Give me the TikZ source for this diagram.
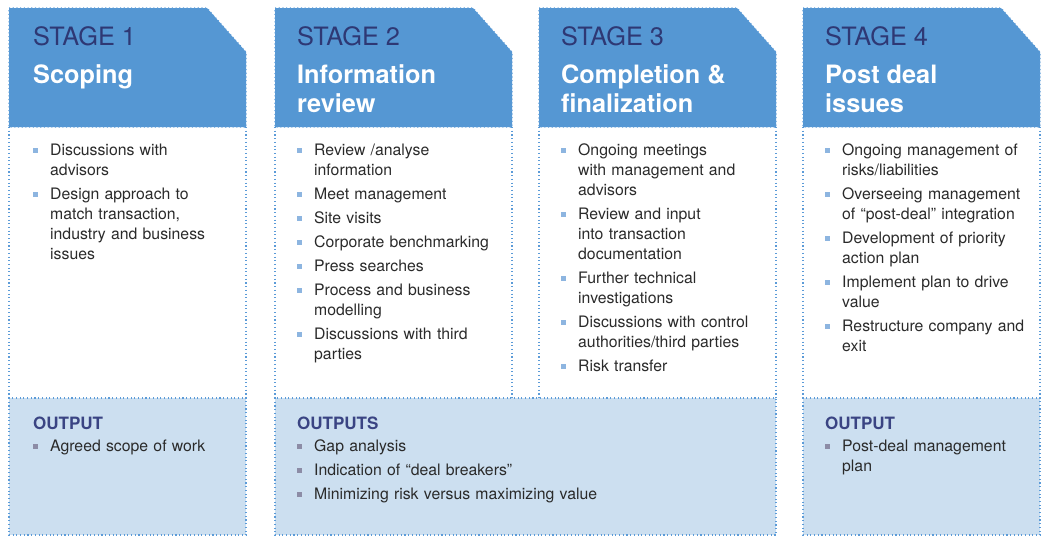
\documentclass[tikz,border=0pt]{standalone}
\usepackage{fontspec}
\setmainfont{TeX Gyre Heros}
\definecolor{hdrblue}{HTML}{5597D3}
\definecolor{navy}{HTML}{2E3874}
\definecolor{outbg}{HTML}{CCDFF0}
\definecolor{dotblue}{HTML}{5B9BD8}
\definecolor{bodytxt}{HTML}{2A2A2A}
\definecolor{bbul}{HTML}{8DB5E0}
\definecolor{obul}{HTML}{8C8CA6}
\definecolor{outnavy}{HTML}{3A4483}
\newcommand\nl{\hfil\break}
\newcommand\bfirst[1]{\noindent\hangindent=17pt\hangafter=1\makebox[17pt][l]{\textcolor{bbul}{\rule[2.3pt]{4.8pt}{4.8pt}}}#1}
\newcommand\bitem[1]{\par\vskip4pt\bfirst{#1}}
\newcommand\ofirst[1]{\noindent\hangindent=17pt\hangafter=1\makebox[17pt][l]{\textcolor{obul}{\rule[2.3pt]{4.8pt}{4.8pt}}}#1}
\newcommand\oitem[1]{\par\vskip4pt\ofirst{#1}}
\tikzset{
  dotb/.style={draw=dotblue, line width=1.1pt, dash pattern=on 1.1pt off 2.6pt},
  hdr/.style={fill=hdrblue, dotb},
  outbox/.style={fill=outbg, dotb},
  stagelbl/.style={anchor=base west, inner sep=0pt, text=navy, font=\fontsize{25.3}{29}\selectfont},
  titlelbl/.style={anchor=base west, inner sep=0pt, text=white, align=left, font=\bfseries\fontsize{25.3}{29}\selectfont},
  bodylist/.style={anchor=base west, inner sep=0pt, text=bodytxt, text width=212pt, font=\fontsize{15.8}{20}\selectfont},
  outtitle/.style={anchor=base west, inner sep=0pt, text=outnavy, font=\bfseries\fontsize{17}{20}\selectfont},
}
\begin{document}
\begin{tikzpicture}[x=1pt,y=-1pt]
\useasboundingbox (0,0) rectangle (1045,536);
% headers and body sides
\foreach \c/\n in {9/1,275/2,539/3,803/4}{
  \draw[dotb] (\c,127) -- (\c,398);
  \draw[dotb] (\c+237,127) -- (\c+237,398);
  \path[hdr] (\c,8) -- (\c+198,8) -- (\c+237,52) -- (\c+237,127) -- (\c,127) -- cycle;
}
% output boxes
\path[outbox] (9,398) rectangle (246,535);
\path[outbox] (275,398) rectangle (776,535);
\path[outbox] (803,398) rectangle (1040,535);

% header texts
\node[stagelbl] (s1) at (33,45) {STAGE 1};
\node[stagelbl] (s2) at (297,45) {STAGE 2};
\node[stagelbl] (s3) at (561,45) {STAGE 3};
\node[stagelbl] (s4) at (825,45) {STAGE 4};
\node[titlelbl] (t1) at (33,83) {Scoping};
\node[titlelbl] (t2) at (297,112) {Information\\review};
\node[titlelbl] (t3) at (561,112) {Completion \&\\finalization};
\node[titlelbl] (t4) at (825,112) {Post deal\\issues};

% body lists
\node[bodylist] (b1) at (33,155) {%
  \bfirst{Discussions with\nl advisors}
  \bitem{Design approach to\nl match transaction,\nl industry and business\nl issues}\par};
\node[bodylist] (b2) at (297,155) {%
  \bfirst{Review /analyse\nl information}
  \bitem{Meet management}
  \bitem{Site visits}
  \bitem{Corporate benchmarking}
  \bitem{Press searches}
  \bitem{Process and business\nl modelling}
  \bitem{Discussions with third\nl parties}\par};
\node[bodylist] (b3) at (561,155) {%
  \bfirst{Ongoing meetings\nl with management and\nl advisors}
  \bitem{Review and input\nl into transaction\nl documentation}
  \bitem{Further technical\nl investigations}
  \bitem{Discussions with control\nl authorities/third parties}
  \bitem{Risk transfer}\par};
\node[bodylist] (b4) at (825,155) {%
  \bfirst{Ongoing management of\nl risks/liabilities}
  \bitem{Overseeing management\nl of “post-deal” integration}
  \bitem{Development of priority\nl action plan}
  \bitem{Implement plan to drive\nl value}
  \bitem{Restructure company and\nl exit}\par};

% outputs
\node[outtitle] (o1) at (33,429) {OUTPUT};
\node[outtitle] (o2) at (297,429) {OUTPUTS};
\node[outtitle] (o4) at (825,429) {OUTPUT};
\node[bodylist] (ol1) at (33,451) {\ofirst{Agreed scope of work}\par};
\node[bodylist, text width=420pt] (ol2) at (297,451) {%
  \ofirst{Gap analysis}
  \oitem{Indication of “deal breakers”}
  \oitem{Minimizing risk versus maximizing value}\par};
\node[bodylist] (ol4) at (825,451) {\ofirst{Post-deal management\nl plan}\par};
\end{tikzpicture}
\end{document}
